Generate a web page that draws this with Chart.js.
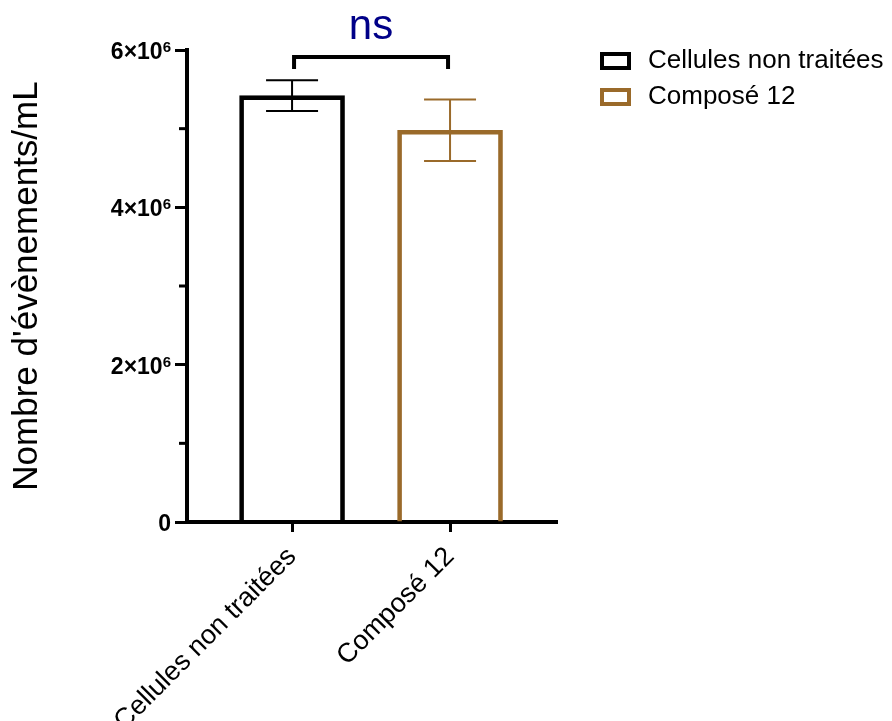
<!DOCTYPE html>
<html>
<head>
<meta charset="utf-8">
<script src="https://cdn.jsdelivr.net/npm/chart.js"></script>
<style>
  body { margin: 0; background: #fff; }
  #wrap { width: 892px; height: 721px; }
</style>
</head>
<body>
<div id="wrap"><canvas id="myChart" width="892" height="721"></canvas></div>
<script>
var groups = ['Cellules non traitées', 'Composé 12'];
var means = [5420000, 4980000];
var errors = [195000, 390000];
var colors = ['#000000', '#9a6a2a'];
var yTickValues = [0, 2000000, 4000000, 6000000];
var yTickBase = ['0', '2×10', '4×10', '6×10'];
var yTickExp = ['', '6', '6', '6'];
var bracketTop = 5910000;
var bracketLeg = 5760000;
var sigText = 'ns';

var FONT = "'Liberation Sans', Arial, sans-serif";

// error bars, y tick labels, significance bracket and the legend
var extras = {
  id: 'extras',
  afterDraw: function(chart) {
    var ctx = chart.ctx;
    var xs = chart.scales.x, ys = chart.scales.y;
    var area = chart.chartArea;
    ctx.save();

    // minor ticks on y
    ctx.strokeStyle = '#000';
    ctx.lineWidth = 3;
    for (var v = 1000000; v < 6000000; v += 2000000) {
      var py = ys.getPixelForValue(v);
      ctx.beginPath();
      ctx.moveTo(area.left - 8, py);
      ctx.lineTo(area.left, py);
      ctx.stroke();
    }

    // y tick labels with exponent
    ctx.fillStyle = '#000';
    ctx.textBaseline = 'alphabetic';
    yTickValues.forEach(function(val, i) {
      var py = ys.getPixelForValue(val);
      var right = 171;
      ctx.font = 'bold 15px ' + FONT;
      var ew = ctx.measureText(yTickExp[i]).width;
      ctx.textAlign = 'right';
      if (yTickExp[i]) ctx.fillText(yTickExp[i], right, py + 2);
      ctx.font = 'bold 23px ' + FONT;
      ctx.fillText(yTickBase[i], right - ew, py + 9);
    });

    // error bars
    ctx.lineWidth = 2;
    means.forEach(function(m, i) {
      var px = xs.getPixelForValue(i);
      var yt = ys.getPixelForValue(m + errors[i]);
      var yb = ys.getPixelForValue(m - errors[i]);
      ctx.strokeStyle = colors[i];
      ctx.beginPath();
      ctx.moveTo(px, yt); ctx.lineTo(px, yb);
      ctx.moveTo(px - 26, yt); ctx.lineTo(px + 26, yt);
      ctx.moveTo(px - 26, yb); ctx.lineTo(px + 26, yb);
      ctx.stroke();
    });

    // bracket
    var x0 = xs.getPixelForValue(0) + 2, x1 = xs.getPixelForValue(1) - 2;
    var yT = ys.getPixelForValue(bracketTop), yL = ys.getPixelForValue(bracketLeg);
    ctx.strokeStyle = '#000';
    ctx.lineWidth = 4;
    ctx.lineJoin = 'miter';
    ctx.beginPath();
    ctx.moveTo(x0, yL); ctx.lineTo(x0, yT); ctx.lineTo(x1, yT); ctx.lineTo(x1, yL);
    ctx.stroke();
    ctx.fillStyle = '#000088';
    ctx.font = '42px ' + FONT;
    ctx.textAlign = 'center';
    ctx.fillText(sigText, (x0 + x1) / 2, 39);

    // legend
    ctx.font = '26px ' + FONT;
    ctx.textAlign = 'left';
    ctx.textBaseline = 'middle';
    chart.data.datasets.forEach(function(ds, i) {
      var cy = 61 + i * 36;
      ctx.strokeStyle = ds.borderColor;
      ctx.lineWidth = 4;
      ctx.strokeRect(602, cy - 7, 27, 14);
      ctx.fillStyle = '#000';
      ctx.fillText(ds.label, 648, cy);
    });
    ctx.restore();
  }
};

var datasets = groups.map(function(g, i) {
  return {
    label: g,
    data: [{ x: i, y: means[i] }],
    backgroundColor: 'rgba(255,255,255,0)',
    borderColor: colors[i],
    borderWidth: 4,
    borderSkipped: 'start',
    barThickness: 105,
    grouped: false
  };
});

var ctx = document.getElementById('myChart').getContext('2d');
var myChart = new Chart(ctx, {
  type: 'bar',
  data: { datasets: datasets },
  options: {
    responsive: false,
    animation: false,
    layout: { padding: { top: 50, right: 335, left: 0, bottom: 0 } },
    plugins: { legend: { display: false }, tooltip: { enabled: false } },
    scales: {
      x: {
        type: 'linear',
        offset: false,
        min: -0.665,
        max: 1.677,
        afterBuildTicks: function(s) {
          s.ticks = groups.map(function(g, i) { return { value: i }; });
        },
        afterFit: function(s) { s.height = 199; },
        ticks: {
          autoSkip: false,
          minRotation: 45,
          maxRotation: 45,
          padding: 9,
          color: '#000',
          font: { family: FONT, size: 27 },
          callback: function(v) { return groups[v]; }
        },
        grid: { offset: false, drawOnChartArea: false, drawTicks: true, tickLength: 10, tickWidth: 3, tickColor: '#000' },
        border: { color: '#000', width: 4 }
      },
      y: {
        min: 0,
        max: 6000000,
        afterFit: function(s) { s.width = 187; },
        ticks: { stepSize: 1000000, display: false },
        grid: {
          drawOnChartArea: false,
          drawTicks: true,
          tickLength: 12,
          tickWidth: 3,
          tickColor: function(c) { return c.tick && c.tick.value % 2000000 === 0 ? '#000' : 'rgba(0,0,0,0)'; }
        },
        border: { color: '#000', width: 4 },
        title: {
          display: true,
          text: "Nombre d'évènements/mL",
          color: '#000',
          font: { family: FONT, size: 35 },
          padding: { top: 6, bottom: 0 }
        }
      }
    }
  },
  plugins: [extras]
});
</script>
</body>
</html>
